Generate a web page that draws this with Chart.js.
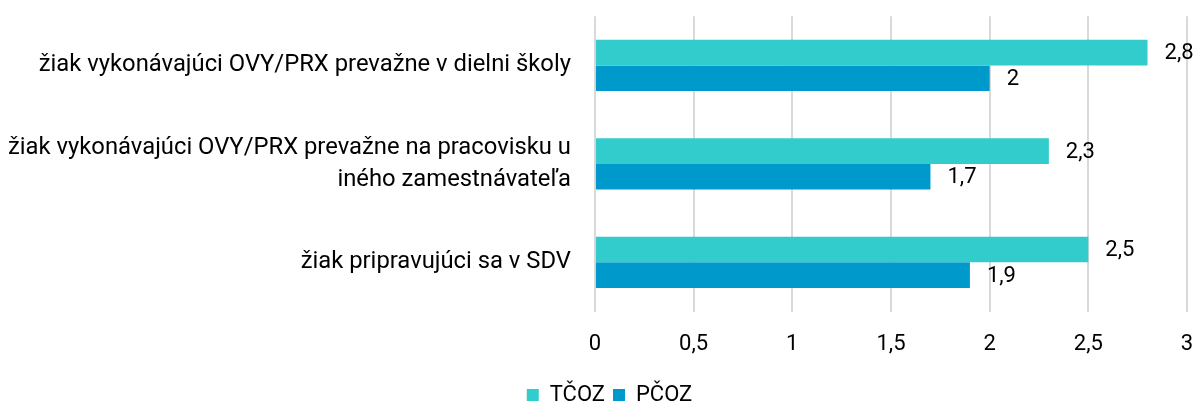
<!DOCTYPE html>
<html>
<head>
<meta charset="utf-8">
<script src="https://cdn.jsdelivr.net/npm/chart.js@4/dist/chart.umd.min.js"></script>
<style>
  html, body { margin: 0; padding: 0; background: #fff; }
  #wrap { width: 1196px; height: 401px; }
</style>
</head>
<body>
<div id="wrap"><canvas id="chart"></canvas></div>
<script>
// Categories (multi-line where the label wraps)
const categories = [
  "žiak vykonávajúci OVY/PRX prevažne v dielni školy",
  ["žiak vykonávajúci OVY/PRX prevažne na pracovisku u", "iného zamestnávateľa"],
  "žiak pripravujúci sa v SDV",
];

// Series values
const tcozValues = [2.8, 2.3, 2.5];
const pcozValues = [2, 1.7, 1.9];

// Colors
const tcozColor = "#33cccc";
const pcozColor = "#0099cc";

const fmt = (v) => String(v).replace(".", ",");

// Draw value labels to the right of bars
const valueLabels = {
  id: "valueLabels",
  afterDatasetsDraw(chart) {
    const ctx = chart.ctx;
    ctx.save();
    ctx.font = "22px Roboto";
    ctx.fillStyle = "#000";
    ctx.textBaseline = "middle";
    ctx.textAlign = "left";
    chart.data.datasets.forEach((ds, i) => {
      chart.getDatasetMeta(i).data.forEach((bar, j) => {
        ctx.fillText(fmt(ds.data[j]), bar.x + 17, bar.y + 1);
      });
    });
    ctx.restore();
  },
};

// Nudge the legend a bit to the right, like the original
const legendShift = {
  id: "legendShift",
  afterLayout(chart) {
    chart.legend.left += 12;
    chart.legend.right += 12;
  },
};

new Chart(document.getElementById("chart"), {
  type: "bar",
  plugins: [valueLabels, legendShift],
  data: {
    labels: categories,
    datasets: [
      { label: "TČOZ", data: tcozValues, backgroundColor: tcozColor },
      { label: "PČOZ", data: pcozValues, backgroundColor: pcozColor },
    ],
  },
  options: {
    indexAxis: "y",
    responsive: true,
    maintainAspectRatio: false,
    animation: false,
    categoryPercentage: 0.52,
    barPercentage: 1,
    layout: { padding: { top: 14, right: 9, left: 8, bottom: -15 } },
    scales: {
      x: {
        min: 0,
        max: 3,
        afterFit: (scale) => { scale.height += 18; },
        ticks: {
          stepSize: 0.5,
          padding: 0,
          color: "#000",
          font: { family: "Roboto", size: 22 },
          callback: (v) => fmt(v),
        },
        grid: {
          color: "#d9d9d9",
          lineWidth: 2,
          drawTicks: true,
          tickLength: 20,
          tickColor: "rgba(0,0,0,0)",
        },
        border: { display: false },
      },
      y: {
        ticks: {
          padding: 0,
          color: "#000",
          font: { family: "Roboto", size: 23.8, lineHeight: 1.36 },
        },
        grid: {
          display: true,
          drawOnChartArea: false,
          drawTicks: true,
          tickLength: 24,
          color: "rgba(0,0,0,0)",
        },
        border: { display: false },
      },
    },
    plugins: {
      tooltip: { enabled: false },
      legend: {
        position: "bottom",
        labels: {
          color: "#000",
          boxWidth: 12,
          boxHeight: 12,
          padding: 8,
          font: { family: "Roboto", size: 22 },
        },
      },
    },
  },
});
</script>
</body>
</html>
